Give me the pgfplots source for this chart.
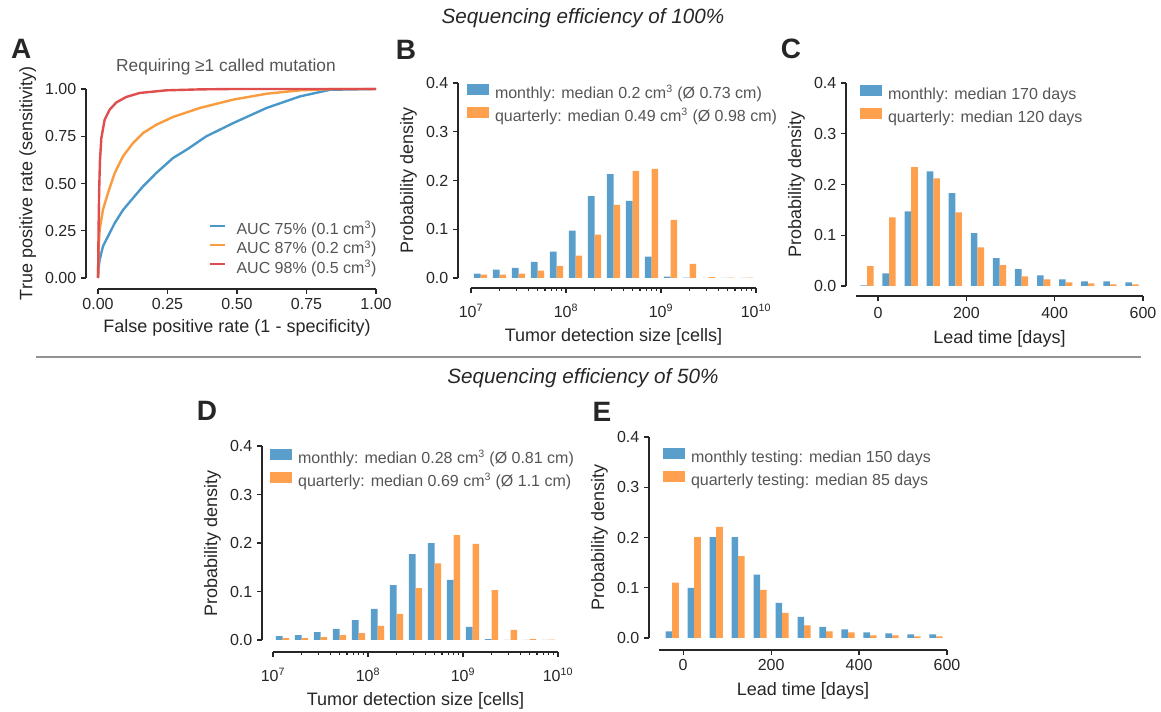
\documentclass[border=0pt]{standalone}
\usepackage{pgfplots}
\pgfplotsset{compat=1.18}
\usepackage{fontspec}
\setmainfont{Liberation Sans}
\definecolor{spine}{HTML}{262626}
\definecolor{tickc}{HTML}{262626}
\definecolor{legc}{HTML}{555555}
\definecolor{cblue}{HTML}{5A9ECB}
\definecolor{corange}{HTML}{FEA04E}
\definecolor{lblue}{HTML}{4A98C9}
\definecolor{lorange}{HTML}{F99B3F}
\definecolor{lred}{HTML}{DF4D4D}
\pgfplotsset{
  panel/.style={
    scale only axis,
    axis lines=left,
    axis line style={-, draw=spine, line width=0.9pt},
    tick align=outside,
    major tick length=3.75pt,
    minor tick length=2.2pt,
    every tick/.style={draw=spine, line width=0.9pt},
    ticklabel style={font=\fontsize{12}{12}\selectfont, text=tickc},
    label style={font=\fontsize{13.5}{13.5}\selectfont, text=tickc},
    /pgf/number format/assume math mode=true,
    clip=false,
    legend cell align=left,
    legend style={draw=none, fill=none, inner sep=0pt, outer sep=0pt,
      font=\fontsize{12}{12}\selectfont, text=legc, row sep=3.75pt,
      nodes={inner sep=0pt, text height=8.6pt, text depth=2.6pt},
      /tikz/every odd column/.append style={column sep=4.5pt}},
  },
  logx/.style={
    xmin=7, xmax=10, xtick={7,8,9,10},
    xticklabels={10\textsuperscript{7},10\textsuperscript{8},10\textsuperscript{9},10\textsuperscript{10}},
    minor xtick={7.30103,7.47712,7.60206,7.69897,7.77815,7.84510,7.90309,7.95424,
                 8.30103,8.47712,8.60206,8.69897,8.77815,8.84510,8.90309,8.95424,
                 9.30103,9.47712,9.60206,9.69897,9.77815,9.84510,9.90309,9.95424},
    xticklabel style={yshift=-5pt},
    xlabel={Tumor detection size [cells]},
    xlabel style={yshift=-1pt},
  },
  dens/.style={
    ymin=0, ymax=0.4, ytick={0,0.1,0.2,0.3,0.4},
    yticklabel style={/pgf/number format/.cd, fixed, fixed zerofill, precision=1},
    ylabel={Probability density},
  },
  days/.style={
    xmax=600, xtick={0,200,400,600},
    xlabel={Lead time [days]},
  },
  barleg/.style={legend image code/.code={\fill[##1] (0pt,-0.4pt) rectangle (16.5pt,7.9pt);}},
  lbar/.style={ybar, bar width=0.07, bar shift=-0.035, fill=cblue, draw=none, barleg},
  rbar/.style={ybar, bar width=0.07, bar shift=0.035, fill=corange, draw=none, barleg},
  ldbar/.style={ybar, bar width=15, bar shift=-7.5, fill=cblue, draw=none, barleg},
  rdbar/.style={ybar, bar width=15, bar shift=7.5, fill=corange, draw=none, barleg},
  lineleg/.style={legend image code/.code={\draw[##1, line width=1.5pt] (0pt,3.6pt) -- (11pt,3.6pt);}},
}
\begin{document}
\begin{tikzpicture}
\path[use as bounding box] (0,0) rectangle (870.75pt,533.25pt);

% ---------------- Panel A ----------------
\begin{axis}[panel, at={(73.5pt,324.75pt)}, anchor=south west,
  width=208.5pt, height=141.75pt,
  axis x line shift=8.25pt, axis y line shift=9pt,
  xmin=0, xmax=1, ymin=0, ymax=1,
  xtick={0,0.25,0.5,0.75,1}, ytick={0,0.25,0.5,0.75,1},
  xticklabel style={/pgf/number format/.cd, fixed, fixed zerofill, precision=2},
  yticklabel style={/pgf/number format/.cd, fixed, fixed zerofill, precision=2},
  xlabel={False positive rate (1 - specificity)},
  ylabel={True positive rate (sensitivity)},
  legend style={at={(0.40,0.29)}, anchor=north west, row sep=3.2pt,
    /tikz/every odd column/.append style={column sep=8pt}},
]
\addplot[lblue, line width=1.8pt, lineleg] coordinates {
(0,0) (0.002,0.05) (0.006,0.097) (0.018,0.168) (0.042,0.238) (0.06,0.29) (0.09,0.36)
(0.126,0.423) (0.162,0.485) (0.21,0.556) (0.27,0.635) (0.319,0.679) (0.39,0.75)
(0.487,0.82) (0.607,0.9) (0.727,0.961) (0.835,0.996) (1,1)};
\addplot[lorange, line width=1.8pt, lineleg] coordinates {
(0,0) (0.002,0.15) (0.006,0.256) (0.018,0.362) (0.036,0.45) (0.06,0.555) (0.09,0.644)
(0.126,0.714) (0.162,0.767) (0.21,0.811) (0.27,0.852) (0.367,0.9) (0.487,0.944)
(0.607,0.975) (0.727,0.993) (0.847,1) (1,1)};
\addplot[lred, line width=1.8pt, lineleg] coordinates {
(0,0) (0.001,0.1) (0.002,0.25) (0.004,0.45) (0.007,0.62) (0.012,0.74) (0.024,0.838)
(0.042,0.891) (0.066,0.929) (0.102,0.958) (0.15,0.979) (0.246,0.993) (0.367,0.998)
(0.487,1) (1,1)};
\legend{AUC 75\% (0.1 cm\textsuperscript{3}),AUC 87\% (0.2 cm\textsuperscript{3}),AUC 98\% (0.5 cm\textsuperscript{3})}
\end{axis}

% ---------------- Panel B ----------------
\begin{axis}[panel, logx, dens, at={(353.25pt,324.75pt)}, anchor=south west,
  width=213.75pt, height=146.25pt,
  axis x line shift=7.5pt, axis y line shift=9.75pt,
  legend style={at={(-0.014,0.995)}, anchor=north west},
]
\addplot[lbar] coordinates {(7.1,0.009) (7.3,0.017) (7.5,0.021) (7.7,0.033) (7.9,0.054) (8.1,0.097) (8.3,0.168) (8.5,0.213) (8.7,0.158) (8.9,0.044) (9.1,0.003) (9.3,0.001) (9.5,0) (9.7,0) (9.9,0)};
\addplot[rbar] coordinates {(7.1,0.007) (7.3,0.007) (7.5,0.009) (7.7,0.015) (7.9,0.025) (8.1,0.046) (8.3,0.089) (8.5,0.150) (8.7,0.219) (8.9,0.224) (9.1,0.119) (9.3,0.029) (9.5,0.002) (9.7,0.001) (9.9,0.001)};
\legend{monthly: median 0.2 cm\textsuperscript{3} (Ø 0.73 cm),quarterly: median 0.49 cm\textsuperscript{3} (Ø 0.98 cm)}
\end{axis}

% ---------------- Panel C ----------------
\begin{axis}[panel, days, dens, at={(642pt,318.75pt)}, anchor=south west,
  width=215.25pt, height=152.25pt, xmin=-50,
  axis x line shift=7.5pt, axis y line shift=7.5pt,
  xticklabel style={yshift=-1pt}, xlabel style={yshift=-2pt},
  legend style={at={(0.014,0.99)}, anchor=north west},
]
\addplot[ldbar] coordinates {(-25,0.001) (25,0.025) (75,0.147) (125,0.226) (175,0.183) (225,0.104) (275,0.055) (325,0.033) (375,0.021) (425,0.013) (475,0.009) (525,0.009) (575,0.007)};
\addplot[rdbar] coordinates {(-25,0.039) (25,0.135) (75,0.234) (125,0.212) (175,0.145) (225,0.076) (275,0.041) (325,0.019) (375,0.013) (425,0.007) (475,0.005) (525,0.003) (575,0.003)};
\legend{monthly: median 170 days,quarterly: median 120 days}
\end{axis}

% ---------------- Panel D ----------------
\begin{axis}[panel, logx, dens, at={(204.75pt,53.25pt)}, anchor=south west,
  width=213.75pt, height=145.5pt,
  axis x line shift=9pt, axis y line shift=8.25pt,
  legend style={at={(-0.01,0.985)}, anchor=north west},
]
\addplot[lbar] coordinates {(7.1,0.008) (7.3,0.010) (7.5,0.016) (7.7,0.023) (7.9,0.041) (8.1,0.064) (8.3,0.113) (8.5,0.177) (8.7,0.200) (8.9,0.124) (9.1,0.027) (9.3,0.002) (9.5,0) (9.7,0) (9.9,0)};
\addplot[rbar] coordinates {(7.1,0.004) (7.3,0.004) (7.5,0.006) (7.7,0.010) (7.9,0.014) (8.1,0.029) (8.3,0.054) (8.5,0.107) (8.7,0.158) (8.9,0.216) (9.1,0.198) (9.3,0.103) (9.5,0.021) (9.7,0.002) (9.9,0.001)};
\legend{monthly: median 0.28 cm\textsuperscript{3} (Ø 0.81 cm),quarterly: median 0.69 cm\textsuperscript{3} (Ø 1.1 cm)}
\end{axis}

% ---------------- Panel E ----------------
\begin{axis}[panel, days, dens, at={(494.25pt,54.75pt)}, anchor=south west,
  width=216pt, height=150.75pt, xmin=-55,
  axis x line shift=9pt, axis y line shift=7.5pt,
  xlabel style={yshift=-1.5pt},
  legend style={at={(0.014,0.945)}, anchor=north west},
]
\addplot[ldbar] coordinates {(-25,0.013) (25,0.100) (75,0.201) (125,0.201) (175,0.126) (225,0.070) (275,0.042) (325,0.022) (375,0.017) (425,0.011) (475,0.009) (525,0.007) (575,0.007)};
\addplot[rdbar] coordinates {(-25,0.110) (25,0.201) (75,0.221) (125,0.163) (175,0.096) (225,0.050) (275,0.025) (325,0.013) (375,0.011) (425,0.005) (475,0.005) (525,0.003) (575,0.003)};
\legend{monthly testing: median 150 days,quarterly testing: median 85 days}
\end{axis}

% ---------------- Annotations ----------------
\node[font=\itshape\fontsize{15.5}{15.5}\selectfont, text=tickc] at (437.25pt,519.75pt) {Sequencing efficiency of 100\%};
\node[font=\itshape\fontsize{15.5}{15.5}\selectfont, text=tickc] at (437.25pt,249.75pt) {Sequencing efficiency of 50\%};
\draw[gray!85, line width=1.1pt] (27pt,265.5pt) -- (856pt,265.5pt);
\node[font=\fontsize{13}{13}\selectfont, text=legc] at (169.5pt,483pt) {Requiring ≥1 called mutation};
\node[font=\bfseries\fontsize{21}{21}\selectfont, text=tickc] at (16pt,496.5pt) {A};
\node[font=\bfseries\fontsize{21}{21}\selectfont, text=tickc] at (304.5pt,495.75pt) {B};
\node[font=\bfseries\fontsize{21}{21}\selectfont, text=tickc] at (593.25pt,496.5pt) {C};
\node[font=\bfseries\fontsize{21}{21}\selectfont, text=tickc] at (155.25pt,225pt) {D};
\node[font=\bfseries\fontsize{21}{21}\selectfont, text=tickc] at (451.5pt,224.25pt) {E};
\end{tikzpicture}
\end{document}
